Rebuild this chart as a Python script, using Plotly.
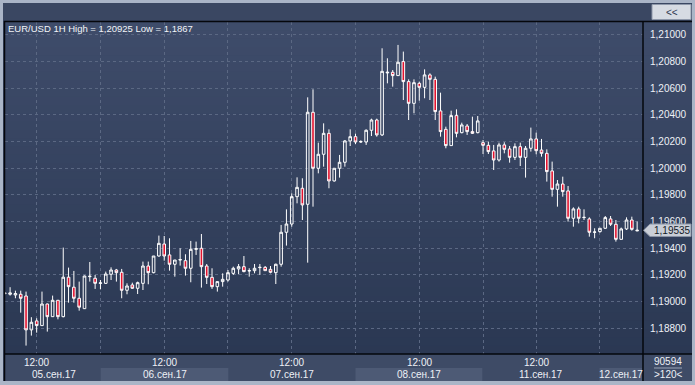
import plotly.graph_objects as go

# ---------------- data (EUR/USD 1H, 120 candles) ----------------
open_ = [1.19065,1.19055,1.19050,1.19055,1.19042,1.18788,1.18855,1.18820,1.18982,1.18887,
         1.19010,1.18887,1.19183,1.19108,1.19025,1.18947,1.19187,1.19175,1.19137,1.19137,
         1.19205,1.19237,1.19220,1.19085,1.19125,1.19100,1.19137,1.19267,1.19217,1.19342,
         1.19432,1.19350,1.19280,1.19312,1.19307,1.19250,1.19392,1.19400,1.19267,1.19182,
         1.19112,1.19150,1.19162,1.19212,1.19245,1.19262,1.19230,1.19232,1.19255,1.19257,
         1.19242,1.19217,1.19280,1.19520,1.19582,1.19787,1.19850,1.19730,1.20420,1.20000,
         1.20105,1.20262,1.19905,1.20000,1.20045,1.20205,1.20237,1.20197,1.20197,1.20285,
         1.20362,1.20250,1.20715,1.20720,1.20695,1.20800,1.20650,1.20487,1.20637,1.20607,
         1.20700,1.20667,1.20430,1.20292,1.20170,1.20395,1.20267,1.20317,1.20275,1.20267,
         1.20192,1.20172,1.20130,1.20062,1.20175,1.20145,1.20082,1.20162,1.20082,1.20150,
         1.20220,1.20137,1.20112,1.19980,1.19842,1.19882,1.19830,1.19625,1.19695,1.19630,
         1.19620,1.19520,1.19525,1.19550,1.19620,1.19580,1.19467,1.19545,1.19612,1.19530]
high = [1.19070,1.19108,1.19082,1.19082,1.19075,1.18883,1.18875,1.19075,1.18985,1.19045,
        1.19012,1.19405,1.19255,1.19230,1.19150,1.19195,1.19297,1.19200,1.19162,1.19225,
        1.19257,1.19245,1.19245,1.19137,1.19142,1.19150,1.19300,1.19300,1.19342,1.19495,
        1.19492,1.19475,1.19312,1.19400,1.19355,1.19455,1.19450,1.19507,1.19282,1.19250,
        1.19150,1.19212,1.19237,1.19262,1.19282,1.19342,1.19250,1.19282,1.19282,1.19267,
        1.19267,1.19285,1.19575,1.19692,1.19812,1.19932,1.19925,1.20532,1.20592,1.20192,
        1.20337,1.20292,1.20000,1.20100,1.20212,1.20292,1.20260,1.20210,1.20292,1.20372,
        1.20372,1.20900,1.20825,1.20737,1.20925,1.20875,1.20667,1.20667,1.20650,1.20742,
        1.20712,1.20687,1.20567,1.20312,1.20432,1.20442,1.20342,1.20332,1.20387,1.20392,
        1.20212,1.20200,1.20175,1.20192,1.20195,1.20167,1.20187,1.20192,1.20167,1.20305,
        1.20267,1.20220,1.20142,1.20050,1.19912,1.19937,1.19867,1.19707,1.19712,1.19692,
        1.19632,1.19550,1.19550,1.19642,1.19642,1.19612,1.19555,1.19632,1.19637,1.19600]
low = [1.19060,1.19045,1.19025,1.18917,1.18670,1.18745,1.18767,1.18820,1.18775,1.18887,
       1.18867,1.18882,1.18992,1.18992,1.18932,1.18945,1.19150,1.19095,1.19092,1.19132,
       1.19162,1.19150,1.19025,1.19055,1.19095,1.19057,1.19087,1.19130,1.19212,1.19337,
       1.19307,1.19232,1.19187,1.19270,1.19195,1.19145,1.19350,1.19105,1.19132,1.19095,
       1.19075,1.19112,1.19150,1.19200,1.19205,1.19220,1.19187,1.19212,1.19200,1.19230,
       1.19212,1.19132,1.19262,1.19420,1.19562,1.19737,1.19612,1.19292,1.19712,1.19962,
       1.20012,1.19850,1.19900,1.19930,1.20012,1.20167,1.20182,1.20190,1.20175,1.20242,
       1.20237,1.20242,1.20637,1.20612,1.20695,1.20512,1.20362,1.20412,1.20507,1.20525,
       1.20512,1.20362,1.20237,1.20150,1.20170,1.20232,1.20262,1.20250,1.20257,1.20262,
       1.20107,1.20107,1.19987,1.20050,1.20112,1.20042,1.20062,1.20017,1.19930,1.20125,
       1.20105,1.20087,1.19900,1.19787,1.19712,1.19787,1.19600,1.19562,1.19587,1.19612,
       1.19487,1.19475,1.19517,1.19545,1.19567,1.19450,1.19467,1.19537,1.19532,1.19528]
close = [1.19060,1.19065,1.19060,1.19025,1.18788,1.18845,1.18820,1.18982,1.18887,1.19010,
         1.18887,1.19183,1.19112,1.19025,1.18958,1.19192,1.19190,1.19137,1.19140,1.19207,
         1.19237,1.19217,1.19085,1.19117,1.19100,1.19142,1.19267,1.19217,1.19342,1.19437,
         1.19342,1.19280,1.19312,1.19315,1.19250,1.19392,1.19397,1.19262,1.19182,1.19112,
         1.19150,1.19167,1.19217,1.19250,1.19262,1.19225,1.19232,1.19250,1.19257,1.19232,
         1.19220,1.19280,1.19520,1.19582,1.19787,1.19857,1.19725,1.20420,1.20000,1.20105,
         1.20262,1.19905,1.20000,1.20045,1.20205,1.20237,1.20197,1.20200,1.20285,1.20362,
         1.20250,1.20727,1.20720,1.20695,1.20795,1.20650,1.20487,1.20642,1.20607,1.20700,
         1.20667,1.20425,1.20275,1.20170,1.20395,1.20262,1.20325,1.20275,1.20262,1.20355,
         1.20172,1.20125,1.20062,1.20175,1.20142,1.20082,1.20162,1.20082,1.20150,1.20220,
         1.20132,1.20112,1.19975,1.19842,1.19882,1.19825,1.19625,1.19695,1.19625,1.19632,
         1.19520,1.19522,1.19550,1.19630,1.19580,1.19467,1.19545,1.19612,1.19542,1.19535]

grid_idx = [6, 18, 30, 42, 54, 66, 78, 90, 100, 112]
time_idx = [6, 30, 54, 78, 100]
time_labels = ["12:00", "12:00", "12:00", "12:00", "12:00"]
date_labels = ["05.сен.17", "06.сен.17", "07.сен.17", "08.сен.17", "11.сен.17", "12.сен.17"]
y_ticks = [1.188, 1.190, 1.192, 1.194, 1.196, 1.198, 1.200, 1.202, 1.204, 1.206, 1.208, 1.210]
title_text = "EUR/USD 1H High = 1,20925 Low = 1,1867"
last_price = 1.19535
count_text = "90594"
bars_text = ">120<"

# ---------------- geometry helpers (pixels -> paper) ----------------
W, H = 695, 385
PL, PR, PT, PB = 5, 643, 22, 354


def px(x):
    return (x - PL) / (PR - PL)


def py(y):
    return (PB - y) / (PB - PT)


FONT = "Liberation Sans Narrow, Liberation Sans, Arial, sans-serif"
FS = 10
TXT = "#eef1f6"

x = list(range(len(open_)))

fig = go.Figure()
fig.add_trace(go.Candlestick(
    x=x, open=open_, high=high, low=low, close=close,
    increasing=dict(line=dict(color="#ffffff", width=1), fillcolor="rgba(0,0,0,0)"),
    decreasing=dict(line=dict(color="#ffffff", width=1), fillcolor="#e3122e"),
    whiskerwidth=0, hoverinfo="skip", showlegend=False,
))

shapes = []
# inner slate frame
shapes.append(dict(type="rect", xref="paper", yref="paper", layer="below",
                   x0=px(3), x1=px(692), y0=py(381), y1=py(3),
                   fillcolor="#3a4762", line=dict(width=0)))
# gradient background of plot + right panel
N = 40
top = (0x3e, 0x4c, 0x6a)
bot = (0x2b, 0x38, 0x53)
for i in range(N):
    t = i / (N - 1)
    c = tuple(int(round(top[k] + (bot[k] - top[k]) * t)) for k in range(3))
    y0 = PT + (PB - PT) * i / N
    y1 = PT + (PB - PT) * (i + 1) / N
    shapes.append(dict(type="rect", xref="paper", yref="paper", layer="below",
                       x0=px(4), x1=px(692), y0=py(y1 + 0.5), y1=py(y0),
                       fillcolor="rgb(%d,%d,%d)" % c, line=dict(width=0)))
# x-axis strip
shapes.append(dict(type="rect", xref="paper", yref="paper", layer="below",
                   x0=px(4), x1=px(643), y0=py(381), y1=py(354),
                   fillcolor="#3e4b66", line=dict(width=0)))
# lighter date bands
for a, b in [(100.7, 228.3), (355.5, 482.3), (599.5, 642)]:
    shapes.append(dict(type="rect", xref="paper", yref="paper", layer="below",
                       x0=px(a), x1=px(b), y0=py(381), y1=py(368),
                       fillcolor="#4d5a75", line=dict(width=0)))
# right-bottom panel
shapes.append(dict(type="rect", xref="paper", yref="paper", layer="below",
                   x0=px(643), x1=px(692), y0=py(381), y1=py(354),
                   fillcolor="#3e4b66", line=dict(width=0)))
# black separator lines
blk = dict(color="#05070c", width=1.5)
shapes += [
    dict(type="line", xref="paper", yref="paper", x0=px(4), x1=px(692), y0=py(21.5), y1=py(21.5), line=blk),
    dict(type="line", xref="paper", yref="paper", x0=px(4.5), x1=px(4.5), y0=py(21), y1=py(381), line=blk),
    dict(type="line", xref="paper", yref="paper", x0=px(643), x1=px(643), y0=py(21), y1=py(381), line=blk),
    dict(type="line", xref="paper", yref="paper", x0=px(4), x1=px(692), y0=py(354), y1=py(354), line=blk),
    dict(type="line", xref="paper", yref="paper", x0=px(654), x1=px(682), y0=py(368), y1=py(368),
         line=dict(color="#9aa6b8", width=1)),
]
# "<<" button
shapes.append(dict(type="rect", xref="paper", yref="paper",
                   x0=px(652), x1=px(691), y0=py(19.5), y1=py(4.5),
                   fillcolor="#d6dbe3", line=dict(color="#8e98aa", width=1)))
# current price marker
hh = 0.00047
x_tip, x_b, x_e = px(643.5), px(650), px(691)
path = "M %f,%f L %f,%f L %f,%f L %f,%f L %f,%f Z" % (
    x_tip, last_price, x_b, last_price + hh, x_e, last_price + hh,
    x_e, last_price - hh, x_b, last_price - hh)
shapes.append(dict(type="path", xref="paper", yref="y", path=path,
                   fillcolor="#c9ced7", line=dict(color="#8a94a6", width=1), layer="above"))

ann = []
ann.append(dict(text=title_text, xref="paper", yref="paper", x=px(6), y=py(28),
                xanchor="left", yanchor="middle", showarrow=False,
                font=dict(family=FONT, size=9.5, color="#f2f4f8")))
for i, t in zip(time_idx, time_labels):
    ann.append(dict(text=t, xref="x", yref="paper", x=i, y=py(362),
                    xanchor="center", yanchor="middle", showarrow=False,
                    font=dict(family=FONT, size=FS, color=TXT)))
date_centers = [54, 164.5, 291.5, 419, 540.5, 620.5]
for cx, t in zip(date_centers, date_labels):
    ann.append(dict(text=t, xref="paper", yref="paper", x=px(cx), y=py(374.5),
                    xanchor="center", yanchor="middle", showarrow=False,
                    font=dict(family=FONT, size=FS, color=TXT)))
ann.append(dict(text=count_text, xref="paper", yref="paper", x=px(668), y=py(361),
                xanchor="center", yanchor="middle", showarrow=False,
                font=dict(family=FONT, size=FS, color=TXT)))
ann.append(dict(text=bars_text, xref="paper", yref="paper", x=px(668), y=py(374.5),
                xanchor="center", yanchor="middle", showarrow=False,
                font=dict(family=FONT, size=FS, color=TXT)))
ann.append(dict(text="&lt;&lt;", xref="paper", yref="paper", x=px(671.5), y=py(12),
                xanchor="center", yanchor="middle", showarrow=False,
                font=dict(family=FONT, size=FS, color="#2e3850")))
ann.append(dict(text=f"{last_price:.5f}".replace(".", ","), xref="paper", yref="y",
                x=px(652), y=last_price, xanchor="left", yanchor="middle", showarrow=False,
                font=dict(family=FONT, size=FS, color="#141a28")))

fig.update_layout(
    width=W, height=H,
    margin=dict(l=PL, r=W - PR, t=PT, b=H - PB, pad=0),
    paper_bgcolor="#aab5c7", plot_bgcolor="rgba(0,0,0,0)",
    separators=", ",
    shapes=shapes, annotations=ann,
    xaxis=dict(range=[0.04, 120.1], rangeslider=dict(visible=False),
               tickmode="array", tickvals=grid_idx, showticklabels=False,
               showgrid=True, gridcolor="#5b6883", griddash="3px,3px", gridwidth=1,
               zeroline=False, showline=False, ticks=""),
    yaxis=dict(side="right", range=[1.18607, 1.21097], tickmode="array", tickvals=y_ticks,
               tickformat=".5f", showgrid=True, gridcolor="#5b6883", griddash="3px,3px",
               gridwidth=1, zeroline=False, showline=False, ticks="outside", ticklen=4,
               tickcolor="rgba(0,0,0,0)",
               tickfont=dict(family=FONT, size=FS, color=TXT)),
    hovermode=False,
)

fig.write_html("out.html", config={"displayModeBar": False},
               post_script="document.body.style.margin='0';document.body.style.overflow='hidden';")
